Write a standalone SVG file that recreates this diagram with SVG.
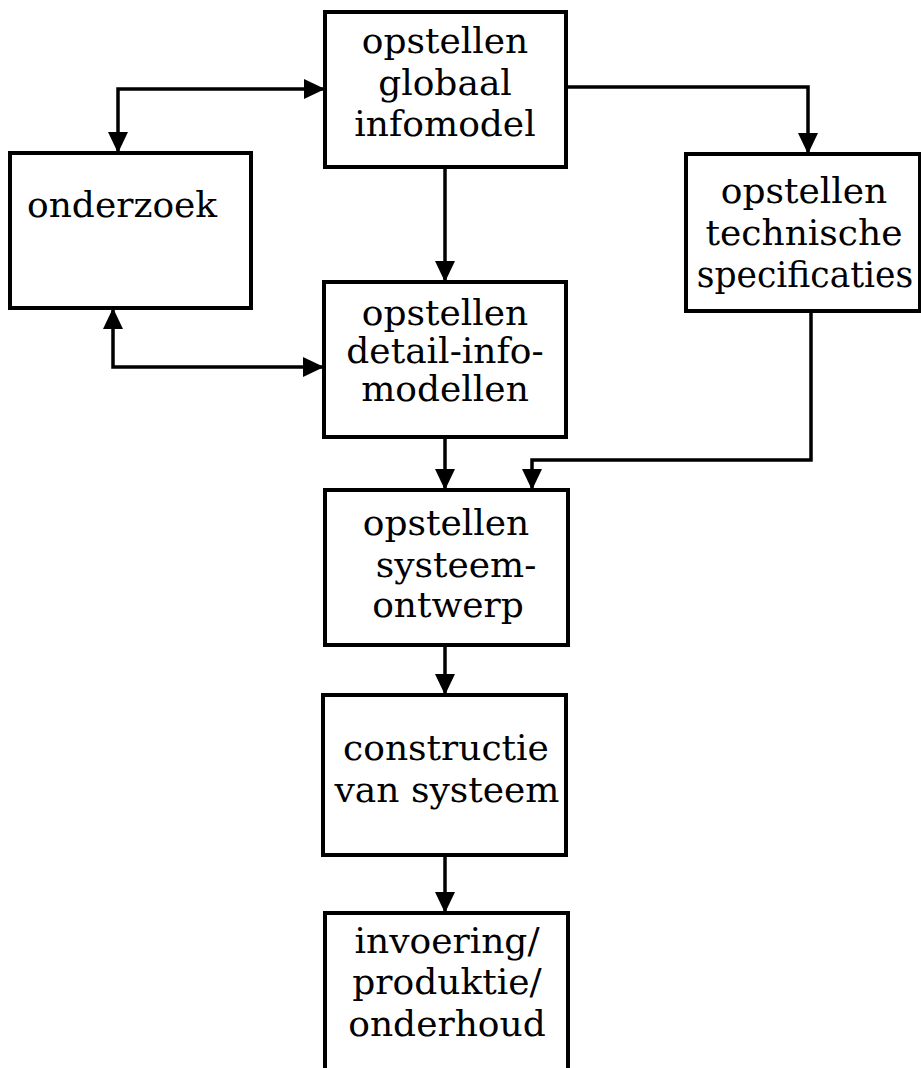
<svg xmlns="http://www.w3.org/2000/svg" width="921" height="1068" viewBox="0 0 921 1068">
  <style>
    .box { fill: #fff; stroke: #000; stroke-width: 4; }
    .lbl { font-family: "DejaVu Serif", "Liberation Serif", serif; font-size: 36px; fill: #000; text-anchor: middle; }
    .wire { fill: none; stroke: #000; stroke-width: 3.5; }
  </style>
  <defs>
    <marker id="head" markerUnits="userSpaceOnUse" markerWidth="21" markerHeight="20" refX="21" refY="10" orient="auto-start-reverse">
      <path d="M0,0 L21,10 L0,20 Z" fill="#000"/>
    </marker>
  </defs>
  <rect width="921" height="1068" fill="#fff"/>

  <g id="connectors">
    <path class="wire" d="M118,153 L118,89 L325,89" marker-start="url(#head)" marker-end="url(#head)"/>
    <path class="wire" d="M113,308 L113,367 L324,367" marker-start="url(#head)" marker-end="url(#head)"/>
    <path class="wire" d="M445,167 L445,282" marker-end="url(#head)"/>
    <path class="wire" d="M566,87 L808,87 L808,154" marker-end="url(#head)"/>
    <path class="wire" d="M811,311 L811,460 L532,460 L532,490" marker-end="url(#head)"/>
    <path class="wire" d="M445,437 L445,490" marker-end="url(#head)"/>
    <path class="wire" d="M445,645 L445,695" marker-end="url(#head)"/>
    <path class="wire" d="M445,855 L445,913" marker-end="url(#head)"/>
  </g>

  <g id="globaal-infomodel">
    <rect class="box" x="325" y="12" width="241" height="155"/>
    <text class="lbl" x="445" y="53">opstellen</text>
    <text class="lbl" x="445" y="95">globaal</text>
    <text class="lbl" x="445" y="136">infomodel</text>
  </g>

  <g id="onderzoek">
    <rect class="box" x="10" y="153" width="241" height="155"/>
    <text class="lbl" x="27" y="217" style="text-anchor:start">onderzoek</text>
  </g>

  <g id="technische-specificaties">
    <rect class="box" x="686" y="154" width="234" height="157"/>
    <text class="lbl" x="804" y="203">opstellen</text>
    <text class="lbl" x="804" y="245">technische</text>
    <text class="lbl" x="805" y="287" style="font-size:34.5px">specificaties</text>
  </g>

  <g id="detail-infomodellen">
    <rect class="box" x="324" y="282" width="242" height="155"/>
    <text class="lbl" x="445" y="325">opstellen</text>
    <text class="lbl" x="445" y="363">detail-info-</text>
    <text class="lbl" x="445" y="401">modellen</text>
  </g>

  <g id="systeemontwerp">
    <rect class="box" x="325" y="490" width="243" height="155"/>
    <text class="lbl" x="446" y="535">opstellen</text>
    <text class="lbl" x="456" y="577">systeem-</text>
    <text class="lbl" x="448" y="617">ontwerp</text>
  </g>

  <g id="constructie">
    <rect class="box" x="323" y="695" width="243" height="160"/>
    <text class="lbl" x="446" y="760">constructie</text>
    <text class="lbl" x="447" y="802">van systeem</text>
  </g>

  <g id="invoering">
    <rect class="box" x="325" y="913" width="243" height="170"/>
    <text class="lbl" x="447" y="953">invoering/</text>
    <text class="lbl" x="447" y="994">produktie/</text>
    <text class="lbl" x="447" y="1036">onderhoud</text>
  </g>
</svg>
